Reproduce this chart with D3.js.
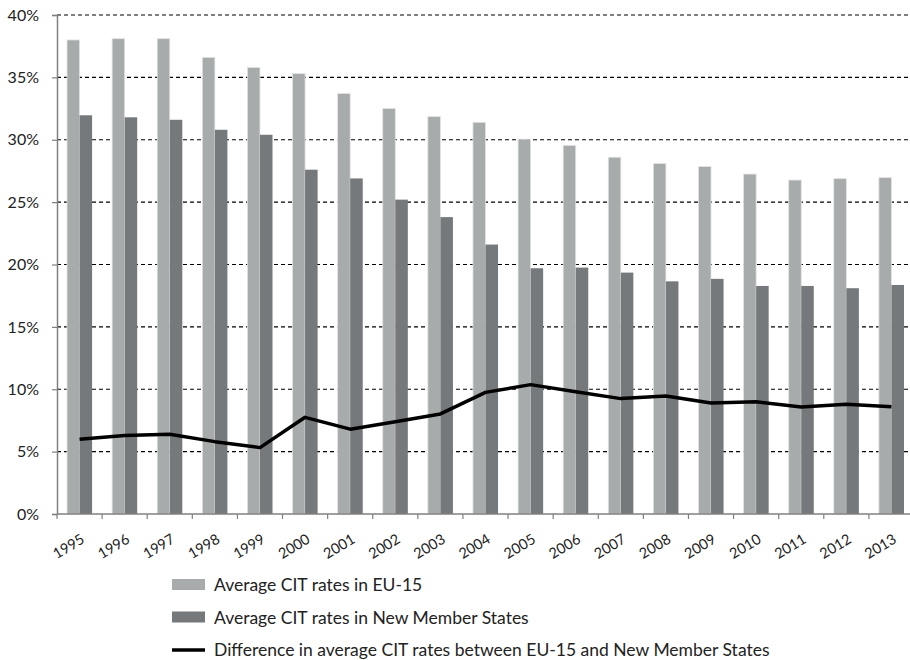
<!DOCTYPE html>
<html>
<head>
<meta charset="utf-8">
<script src="https://cdn.jsdelivr.net/npm/d3@7"></script>
<style>
  body { margin: 0; background: #fff; }
  svg { font-family: Lato, "Open Sans", sans-serif; }
</style>
</head>
<body>
<svg width="910" height="660"></svg>
<script>
let years = ['1995','1996','1997','1998','1999','2000','2001','2002','2003','2004',
             '2005','2006','2007','2008','2009','2010','2011','2012','2013'];
let eu15 = [38.0, 38.1, 38.1, 36.6, 35.8, 35.3, 33.7, 32.5, 31.85, 31.4,
            30.05, 29.55, 28.6, 28.1, 27.85, 27.25, 26.77, 26.88, 26.96];
let nms = [31.96, 31.8, 31.6, 30.8, 30.4, 27.6, 26.9, 25.2, 23.8, 21.6,
           19.7, 19.75, 19.35, 18.65, 18.85, 18.28, 18.28, 18.1, 18.36];
let diff = [6.0, 6.3, 6.4, 5.8, 5.32, 7.75, 6.8, 7.4, 8.02, 9.75,
            10.37, 9.8, 9.25, 9.46, 8.9, 9.0, 8.58, 8.79, 8.6];
let yTicks = [0, 5, 10, 15, 20, 25, 30, 35, 40];
let seriesNames = ['Average CIT rates in EU-15', 'Average CIT rates in New Member States',
                   'Difference in average CIT rates between EU-15 and New Member States'];

let svg = d3.select('svg');
let plotLeft = 57, plotRight = 914, plotTop = 15, plotBottom = 514;

let x = d3.scaleBand().domain(years).range([plotLeft, plotRight]);
let y = d3.scaleLinear().domain([0, 40]).range([plotBottom, plotTop]);
let bw = x.bandwidth() * 0.278;

// gridlines
svg.append('g').selectAll('line')
  .data(yTicks.filter(d => d > 0))
  .enter().append('line')
  .attr('x1', plotLeft).attr('x2', 910)
  .attr('y1', d => y(d)).attr('y2', d => y(d))
  .attr('stroke', '#000').attr('stroke-width', 1.2)
  .attr('stroke-dasharray', '4,3');

// bars
let groups = svg.append('g').selectAll('g')
  .data(years)
  .enter().append('g');

groups.append('rect')
  .attr('x', (d) => x(d) + x.bandwidth() / 2 - bw)
  .attr('width', bw)
  .attr('y', (d, i) => y(eu15[i]))
  .attr('height', (d, i) => plotBottom - y(eu15[i]))
  .attr('fill', '#a8abab')
  .attr('stroke', '#e2e3e3').attr('stroke-width', 0.8);

groups.append('rect')
  .attr('x', (d) => x(d) + x.bandwidth() / 2)
  .attr('width', bw)
  .attr('y', (d, i) => y(nms[i]))
  .attr('height', (d, i) => plotBottom - y(nms[i]))
  .attr('fill', '#76797c');

// difference line
let line = d3.line()
  .x((d, i) => x(years[i]) + x.bandwidth() / 2)
  .y(d => y(d));
svg.append('path')
  .attr('d', line(diff))
  .attr('fill', 'none')
  .attr('stroke', '#000')
  .attr('stroke-width', 3.5)
  .attr('stroke-linejoin', 'round');

// y axis
let yAxis = d3.axisLeft(y).tickValues(yTicks).tickFormat(d => d + '%').tickSize(5).tickPadding(13);
let ga = svg.append('g').attr('transform', `translate(${plotLeft},0)`).call(yAxis);
ga.select('.domain').attr('stroke', '#808080').attr('stroke-width', 1.5);
ga.selectAll('.tick line').attr('stroke', '#808080').attr('stroke-width', 1.2);
ga.selectAll('text').attr('font-size', 16).attr('fill', '#222')
  .attr('font-family', 'Lato, "Open Sans", sans-serif');

// x axis
let xb = svg.append('g');
xb.append('line')
  .attr('x1', plotLeft).attr('x2', 910)
  .attr('y1', plotBottom).attr('y2', plotBottom)
  .attr('stroke', '#808080').attr('stroke-width', 1.5);
xb.selectAll('.tk')
  .data(years)
  .enter().append('line')
  .attr('x1', d => x(d)).attr('x2', d => x(d))
  .attr('y1', plotBottom).attr('y2', plotBottom + 5)
  .attr('stroke', '#808080').attr('stroke-width', 1.2);
xb.selectAll('text')
  .data(years)
  .enter().append('text')
  .attr('transform', d => `translate(${x(d) + x.bandwidth() / 2 + 6},${plotBottom + 28}) rotate(-31)`)
  .attr('text-anchor', 'end')
  .attr('font-size', 14.5)
  .attr('fill', '#222')
  .text(d => d);

// legend
let legend = svg.append('g').attr('transform', 'translate(172,585)');
let rows = legend.selectAll('g')
  .data(seriesNames)
  .enter().append('g')
  .attr('transform', (d, i) => `translate(0,${i * 32.5})`);
rows.each(function(d, i) {
  let g = d3.select(this);
  if (i < 2) {
    g.append('rect').attr('x', 0).attr('y', -6).attr('width', 33).attr('height', 11)
      .attr('fill', i == 0 ? '#a8abab' : '#76797c');
  } else {
    g.append('line').attr('x1', 0).attr('x2', 33).attr('y1', 0).attr('y2', 0)
      .attr('stroke', '#000').attr('stroke-width', 3.5);
  }
  g.append('text').attr('x', 42).attr('y', 6)
    .attr('font-size', 17.5).attr('fill', '#222').text(d);
});
</script>
</body>
</html>
